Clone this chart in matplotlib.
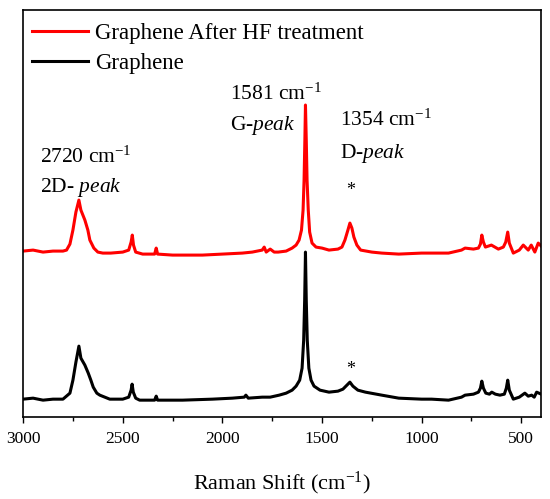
import matplotlib
matplotlib.use("Agg")
import matplotlib.pyplot as plt
from matplotlib.ticker import MultipleLocator

plt.rcParams['font.family'] = ['Liberation Serif', 'DejaVu Serif']
plt.rcParams['mathtext.fontset'] = 'custom'
plt.rcParams['mathtext.rm'] = 'Liberation Serif'
plt.rcParams['mathtext.it'] = 'Liberation Serif:italic'

# Raman shift (cm-1) and intensity (arb. units)
graphene_shift = [3000, 2950, 2900, 2850, 2800, 2765, 2750, 2735, 2720, 2710, 2690,
                  2673, 2660, 2648, 2630, 2615, 2565, 2500, 2470, 2458, 2453, 2447,
                  2435, 2415, 2340, 2332, 2325, 2200, 2050, 1950, 1890, 1882, 1870,
                  1800, 1760, 1715, 1680, 1650, 1630, 1612, 1600, 1592, 1587, 1583,
                  1579, 1574, 1566, 1555, 1540, 1510, 1465, 1420, 1395, 1375, 1360,
                  1345, 1320, 1282, 1200, 1115, 1000, 950, 865, 800, 782, 740, 715,
                  705, 698, 690, 678, 660, 648, 630, 607, 585, 575, 568, 560, 540,
                  510, 482, 465, 448, 435, 423, 400]
graphene_int = [1, 2, 0, 1, 1, 7, 20, 38, 54, 42, 35,
                27, 20, 13, 7, 5, 1, 1, 3, 10, 16, 8,
                2, 0, 0, 4, 0, 0, 1, 2, 3, 5, 2,
                3, 3, 5, 7, 10, 14, 20, 32, 60, 100, 148,
                100, 60, 32, 20, 14, 10, 8, 9, 11, 15, 18,
                14, 10, 8, 5, 2, 1, 1, 0, 3, 5, 6, 8,
                12, 19, 12, 7, 6, 8, 6, 5, 6, 12, 20, 10, 1,
                3, 7, 4, 5, 3, 8, 6]

hf_shift = [3000, 2950, 2900, 2850, 2800, 2782, 2765, 2750, 2735, 2720, 2710, 2690,
            2675, 2665, 2645, 2625, 2600, 2560, 2500, 2470, 2458, 2452, 2446, 2435,
            2400, 2340, 2332, 2325, 2250, 2100, 2000, 1900, 1850, 1800, 1790, 1780,
            1760, 1740, 1720, 1680, 1650, 1630, 1615, 1603, 1595, 1590, 1586, 1583,
            1579, 1575, 1569, 1562, 1550, 1530, 1500, 1465, 1420, 1400, 1385, 1370,
            1360, 1350, 1340, 1325, 1306, 1250, 1200, 1115, 1000, 865, 800, 782,
            740, 715, 705, 698, 690, 680, 650, 615, 590, 578, 568, 560, 540, 510,
            490, 465, 450, 432, 415, 400]
hf_int = [149, 150, 148, 149, 149, 150, 156, 170, 188, 200, 190, 180,
          170, 160, 152, 148, 147, 147, 148, 150, 158, 165, 155, 148,
          146, 146, 152, 146, 145, 145, 146, 147, 148, 150, 153, 148,
          151, 148, 148, 149, 152, 155, 160, 170, 190, 220, 260, 295,
          260, 220, 190, 168, 157, 153, 152, 150, 151, 153, 160, 170,
          177, 172, 163, 155, 150, 148, 147, 146, 147, 147, 150, 152,
          151, 152, 156, 165, 158, 153, 155, 151, 153, 158, 168, 157, 147, 150,
          155, 150, 155, 148, 157, 154]

labels = ['Graphene After HF treatment', 'Graphene']

fig = plt.figure(figsize=(5.5, 4.99), dpi=100)
ax = fig.add_axes([0.042, 0.164, 0.942, 0.816])

ax.plot(hf_shift, hf_int, color='#ff0000', lw=2.2, label=labels[0])
ax.plot(graphene_shift, graphene_int, color='black', lw=2.2, label=labels[1])

ax.set_xlim(3000, 400)
ax.set_ylim(-17, 390)
ax.xaxis.set_major_locator(MultipleLocator(500))
ax.xaxis.set_minor_locator(MultipleLocator(250))
ax.set_yticks([])
ax.tick_params(axis='x', which='major', direction='out', length=4, width=1, labelsize=12.5, pad=6)
ax.tick_params(axis='x', which='minor', direction='out', length=3, width=1)
for s in ax.spines.values():
    s.set_linewidth(1.2)
ax.set_xlabel('Raman Shift (cm$^{-1}$)', fontsize=16, labelpad=16)

# peak annotations
ax.text(2915, 243, '2720 cm$^{-1}$', fontsize=15.5, va='center', ha='left')
ax.text(2915, 213, '2D- $\\mathit{peak}$', fontsize=15.5, va='center', ha='left')
ax.text(1960, 306, '1581 cm$^{-1}$', fontsize=15.5, va='center', ha='left')
ax.text(1960, 275, 'G-$\\mathit{peak}$', fontsize=15.5, va='center', ha='left')
ax.text(1410, 280, '1354 cm$^{-1}$', fontsize=15.5, va='center', ha='left')
ax.text(1410, 247, 'D-$\\mathit{peak}$', fontsize=15.5, va='center', ha='left')
ax.text(1354, 210, '*', fontsize=13, ha='center', va='center')
ax.text(1354, 31, '*', fontsize=13, ha='center', va='center')

ax.legend(loc='upper left', bbox_to_anchor=(0.0, 0.99), frameon=False, fontsize=16.5,
          handlelength=2.45, handletextpad=0.3, labelspacing=0.4, borderpad=0.3,
          borderaxespad=0.1)

fig.savefig('out.png', dpi=100)
